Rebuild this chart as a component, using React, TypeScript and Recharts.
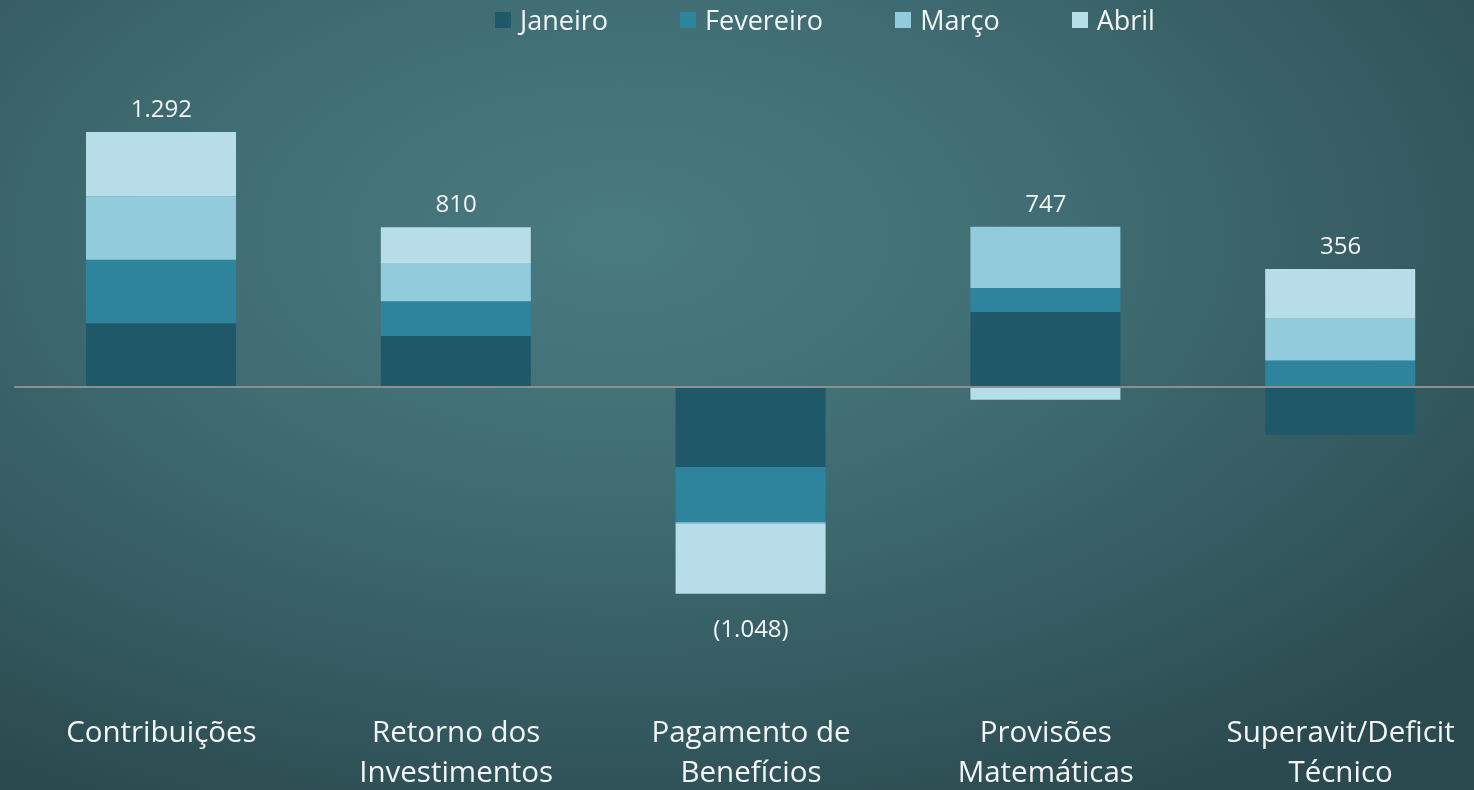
import React from 'react';
import { ComposedChart, Bar, Line, XAxis, YAxis, ReferenceLine, Legend, LabelList } from 'recharts';

const categories = [
  'Contribuições',
  'Retorno dos\nInvestimentos',
  'Pagamento de\nBenefícios',
  'Provisões\nMatemáticas',
  'Superavit/Deficit\nTécnico',
];
const janeiro = [323, 258, -405, 380, -242];
const fevereiro = [322, 177, -280, 122, 134];
const marco = [322, 193, -8, 310, 212];
const abril = [325, 182, -355, -65, 252];
const totals = [1292, 810, -1048, 747, 356];

const seriesNames = ['Janeiro', 'Fevereiro', 'Março', 'Abril'];
const seriesKeys = ['jan', 'fev', 'mar', 'abr'];
const seriesColors = ['#1f5869', '#2e849c', '#92ccdc', '#b7dee8'];

const data = categories.map((c, i) => {
  const vals = [janeiro[i], fevereiro[i], marco[i], abril[i]];
  const pos = vals.filter((v) => v > 0).reduce((a, b) => a + b, 0);
  const neg = vals.filter((v) => v < 0).reduce((a, b) => a + b, 0);
  return {
    name: c,
    jan: janeiro[i],
    fev: fevereiro[i],
    mar: marco[i],
    abr: abril[i],
    total: totals[i],
    anchor: totals[i] >= 0 ? pos : neg,
  };
});

const FONT = '"Open Sans", sans-serif';

const fmt = (v: number) => {
  const s = Math.abs(v).toLocaleString('de-DE');
  return v < 0 ? `(${s})` : s;
};

const CategoryTick = (props: any) => {
  const { x, y, payload } = props;
  const lines = String(payload.value).split('\n');
  return (
    <text x={x} y={y} textAnchor="middle" fill="#f4f4f4" fontSize={29.5} fontFamily={FONT}>
      {lines.map((l: string, i: number) => (
        <tspan key={i} x={x} dy={i === 0 ? 71 : 40}>
          {l}
        </tspan>
      ))}
    </text>
  );
};

const TotalLabel = (props: any) => {
  const { x, y, index } = props;
  const t = totals[index];
  return (
    <text
      x={x}
      y={t >= 0 ? y - 15 : y + 43}
      textAnchor="middle"
      fill="#f4f4f4"
      fontSize={24}
      fontFamily={FONT}
    >
      {fmt(t)}
    </text>
  );
};

const LegendContent = (props: any) => {
  const items = (props.payload || [])
    .filter((p: any) => seriesNames.includes(p.value))
    .sort((a: any, b: any) => seriesNames.indexOf(a.value) - seriesNames.indexOf(b.value));
  return (
    <div style={{ display: 'flex', alignItems: 'center', fontFamily: FONT, fontSize: 27, color: '#f4f4f4', whiteSpace: 'nowrap' }}>
      {items.map((p: any, i: number) => (
        <div key={p.value} style={{ display: 'flex', alignItems: 'center', marginRight: i < items.length - 1 ? 72 : 0 }}>
          <span style={{ width: 16, height: 16, background: p.color, display: 'inline-block', marginRight: 9 }} />
          <span style={{ lineHeight: '36px' }}>{p.value}</span>
        </div>
      ))}
    </div>
  );
};

export default function App() {
  return (
    <div
      style={{
        position: 'fixed',
        left: 0,
        top: 0,
        width: 1474,
        height: 790,
        overflow: 'hidden',
        background:
          'radial-gradient(ellipse 75% 80% at 42% 30%, #4a7b80 0%, #3f6d73 40%, #345a60 75%, #2a4a4f 100%)',
      }}
    >
      <ComposedChart
        width={1500}
        height={790}
        data={data}
        stackOffset="sign"
        margin={{ top: 110.7, right: 12, bottom: 26.7, left: 14 }}
      >
        <XAxis
          dataKey="name"
          axisLine={false}
          tickLine={false}
          height={100}
          interval={0}
          tick={<CategoryTick />}
        />
        <YAxis hide domain={[-1400, 1400]} allowDataOverflow />
        <Legend
          verticalAlign="middle"
          align="center"
          layout="horizontal"
          content={<LegendContent />}
          wrapperStyle={{ position: 'absolute', top: 2, left: 495, width: 'auto', height: 36 }}
        />
        {seriesKeys.map((k, i) => (
          <Bar
            key={k}
            dataKey={k}
            name={seriesNames[i]}
            stackId="s"
            fill={seriesColors[i]}
            barSize={150}
            isAnimationActive={false}
          />
        ))}
        <ReferenceLine y={0} stroke="#8e8e8e" strokeWidth={2} />
        <Line
          dataKey="anchor"
          stroke="none"
          dot={false}
          activeDot={false}
          legendType="none"
          isAnimationActive={false}
        >
          <LabelList dataKey="total" content={<TotalLabel />} />
        </Line>
      </ComposedChart>
    </div>
  );
}
